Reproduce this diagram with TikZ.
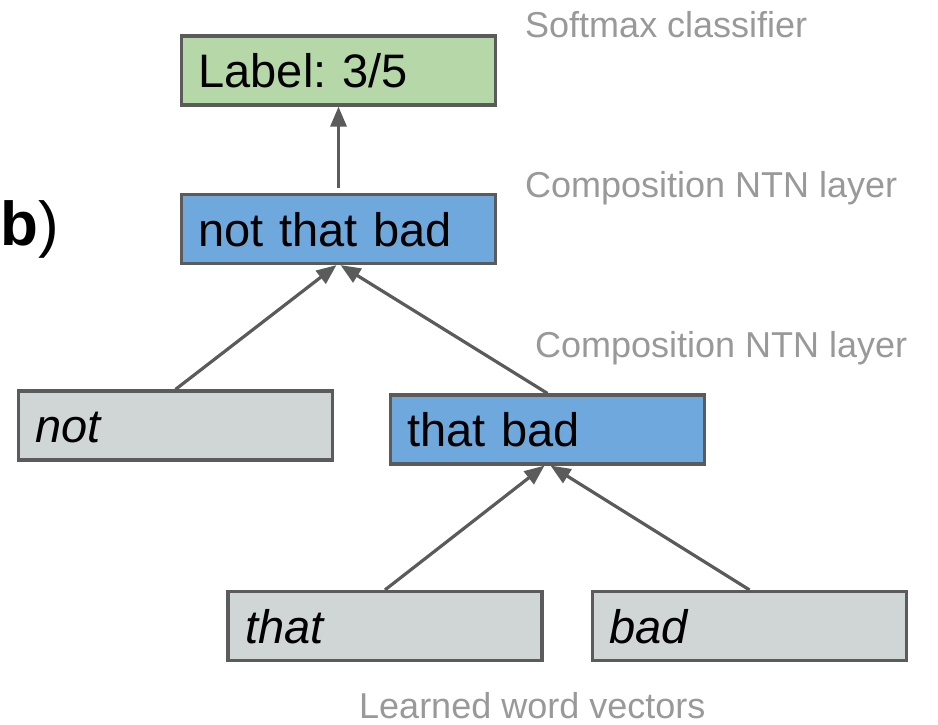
\documentclass[tikz,border=0pt]{standalone}
\usepackage{fontspec}
\setmainfont{Liberation Sans}
\usetikzlibrary{arrows.meta}
\frenchspacing
\definecolor{boxgreen}{HTML}{B6D7A8}
\definecolor{boxblue}{HTML}{6FA8DC}
\definecolor{boxgray}{HTML}{D0D6D6}
\definecolor{edgegray}{HTML}{5B5B5B}
\definecolor{labelgray}{HTML}{999999}
\tikzset{
  treebox/.style={draw=edgegray, line width=3.2pt, minimum height=69pt,
    text width=280pt, align=left, inner xsep=17pt, inner ysep=0pt,
    text height=34pt, text depth=0pt,
    font=\fontsize{47}{56}\selectfont\frenchspacing},
  wordbox/.style={treebox, fill=boxgray, font=\fontsize{47}{56}\selectfont\itshape},
  phrasebox/.style={treebox, fill=boxblue},
  outbox/.style={treebox, fill=boxgreen},
  arr/.style={draw=edgegray, line width=3.2pt, -{Triangle[length=20pt,width=16pt]}},
  layerlabel/.style={anchor=base west, inner sep=0pt, text=labelgray,
    font=\fontsize{36}{43}\selectfont}
}
\begin{document}
\begin{tikzpicture}[x=1pt,y=-1pt]
\useasboundingbox (0,0) rectangle (938,725);
\node[outbox] (lab) at (338.5,70.5) {Label: 3/5};
\node[phrasebox] (ntb) at (338.5,229) {not that bad};
\node[wordbox] (not) at (175.5,425.5) {not};
\node[phrasebox] (tb) at (547.5,429.5) {that bad};
\node[wordbox] (that) at (385,626) {that};
\node[wordbox] (bad) at (749.5,626) {bad};

\draw[arr, shorten <=5pt] (ntb.north) -- (lab.south);
\draw[arr] (not.north) -- ([xshift=-2pt]ntb.south);
\draw[arr] (tb.north) -- ([xshift=2pt]ntb.south);
\draw[arr] (that.north) -- ([xshift=-3pt]tb.south);
\draw[arr] (bad.north) -- ([xshift=3pt]tb.south);

\node[layerlabel] (soft) at (525,38) {Softmax classifier};
\node[layerlabel] (comp1) at (525,197) {Composition NTN layer};
\node[layerlabel] (comp2) at (535,357) {Composition NTN layer};
\node[layerlabel] (learn) at (359,718) {Learned word vectors};
\node[anchor=base west, inner sep=0pt, font=\fontsize{62}{72}\selectfont] (tag) at (0,245) {\textbf{b})};
\end{tikzpicture}
\end{document}
